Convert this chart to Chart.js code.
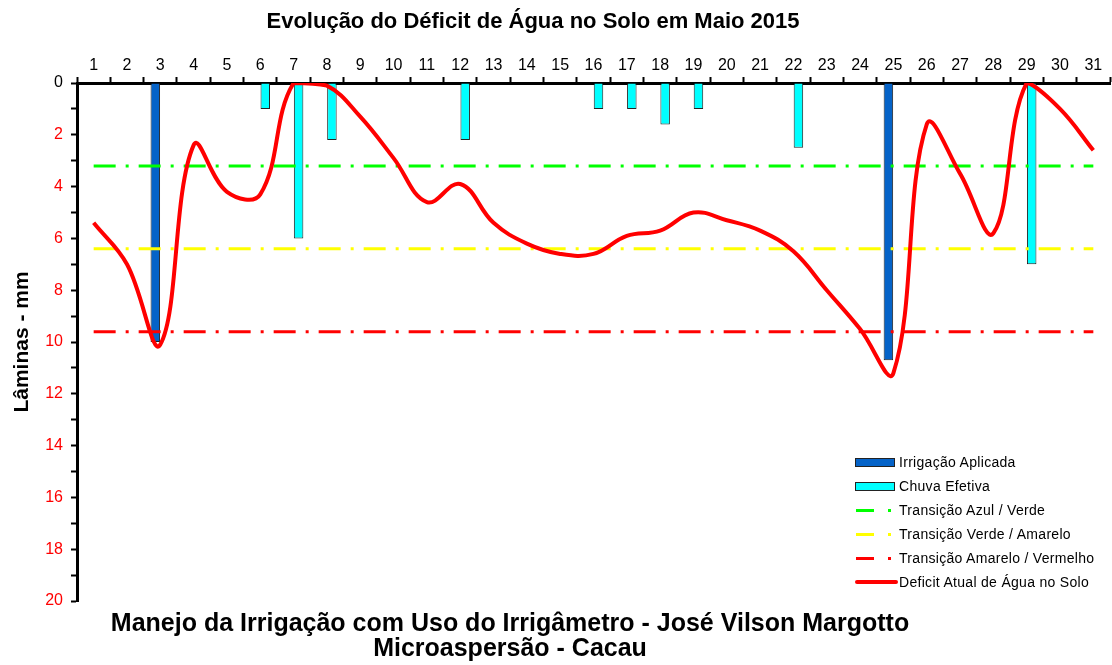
<!DOCTYPE html>
<html>
<head>
<meta charset="utf-8">
<script src="https://cdn.jsdelivr.net/npm/chart.js@4"></script>
<style>
  body { margin: 0; background: #fff; }
  #wrap { position: relative; width: 1112px; height: 665px; font-family: "Liberation Sans", Arial, sans-serif; }
  #title { position: absolute; left: 0; top: 8px; width: 1066px; text-align: center; font-size: 22px; font-weight: bold; line-height: 26px; }
  #subtitle { position: absolute; left: 0; top: 610px; width: 1020px; text-align: center; font-size: 25px; font-weight: bold; line-height: 25px; }
  #legend { position: absolute; left: 855px; top: 450px; font-size: 14px; letter-spacing: 0.3px; color: #000; }
  #legend .item { height: 24px; display: flex; align-items: center; }
  #legend .sym { width: 44px; height: 12px; position: relative; flex: none; }
  .bar { position: absolute; left: 0; top: 2px; width: 38px; height: 7px; border: 1px solid #222; }
  .dash { position: absolute; left: 1px; top: 5px; width: 18px; height: 3px; }
  .dot { position: absolute; left: 33px; top: 5px; width: 3px; height: 3px; }
  .solid { position: absolute; left: 0; top: 4px; width: 43px; height: 4px; border-radius: 2px; }
</style>
</head>
<body>
<div id="wrap">
  <canvas id="chart" width="1112" height="665"></canvas>
  <div id="title">Evolução do Déficit de Água no Solo em Maio 2015</div>
  <div id="subtitle">Manejo da Irrigação com Uso do Irrigâmetro - José Vilson Margotto<br>Microaspersão - Cacau</div>
  <div id="legend"></div>
</div>
<script>
// Days of May 2015
const days = ['1','2','3','4','5','6','7','8','9','10','11','12','13','14','15','16',
              '17','18','19','20','21','22','23','24','25','26','27','28','29','30','31'];

// Irrigation applied (mm)
const irrigacao = [null, null, 10.0, null, null, null, null, null, null, null, null, null, null, null, null, null,
                   null, null, null, null, null, null, null, null, 10.7, null, null, null, null, null, null];

// Effective rain (mm)
const chuva = [null, null, null, null, null, 1.0, 6.0, 2.2, null, null, null, 2.2, null, null, null, 1.0,
               1.0, 1.6, 1.0, null, null, 2.5, null, null, null, null, null, null, 7.0, null, null];

// Current soil water deficit (mm)
const deficit = [5.4, 7.0, 10.1, 2.4, 4.2, 4.3, 0.0, 0.1, 1.3, 2.9, 4.6, 3.9, 5.4, 6.2, 6.6, 6.6,
                 5.9, 5.7, 5.0, 5.3, 5.7, 6.5, 8.0, 9.5, 11.2, 1.6, 3.5, 5.8, 0.0, 1.0, 2.6];

// Transition thresholds (mm)
const azulVerde = 3.2;
const verdeAmarelo = 6.4;
const amareloVermelho = 9.6;

const dashDot = [22, 10, 3, 10];
const fontFamily = '"Liberation Sans", Arial, sans-serif';

const ctx = document.getElementById('chart').getContext('2d');
const chart = new Chart(ctx, {
    data: {
        labels: days,
        datasets: [{
            type: 'line',
            label: 'Deficit Atual de Água no Solo',
            data: deficit,
            borderColor: '#ff0000',
            borderWidth: 4,
            pointRadius: 0,
            tension: 0.4,
            clip: 0,
            order: 0
        }, {
            type: 'line',
            label: 'Transição Azul / Verde',
            data: days.map(() => azulVerde),
            borderColor: '#00ff00',
            borderWidth: 3,
            borderDash: dashDot,
            pointRadius: 0,
            order: 1
        }, {
            type: 'line',
            label: 'Transição Verde / Amarelo',
            data: days.map(() => verdeAmarelo),
            borderColor: '#ffff00',
            borderWidth: 3,
            borderDash: dashDot,
            pointRadius: 0,
            order: 1
        }, {
            type: 'line',
            label: 'Transição Amarelo / Vermelho',
            data: days.map(() => amareloVermelho),
            borderColor: '#ff0000',
            borderWidth: 3,
            borderDash: dashDot,
            pointRadius: 0,
            order: 1
        }, {
            type: 'bar',
            label: 'Irrigação Aplicada',
            data: irrigacao,
            backgroundColor: '#0563c8',
            borderColor: '#222',
            borderWidth: 1,
            categoryPercentage: 0.6,
            barPercentage: 0.95,
            order: 2
        }, {
            type: 'bar',
            label: 'Chuva Efetiva',
            data: chuva,
            backgroundColor: '#00ffff',
            borderColor: '#222',
            borderWidth: 1,
            categoryPercentage: 0.6,
            barPercentage: 0.95,
            order: 2
        }]
    },
    options: {
        responsive: false,
        animation: false,
        layout: { padding: { left: 0, right: 2, top: 31, bottom: 64 } },
        scales: {
            x: {
                type: 'category',
                position: 'top',
                offset: true,
                grid: { offset: true, drawOnChartArea: false, tickLength: 6, tickColor: '#000', tickWidth: 2 },
                border: { color: '#000', width: 3 },
                ticks: { color: '#000', font: { family: fontFamily, size: 16 }, padding: 2, maxRotation: 0, autoSkip: false },
                afterFit: (scale) => { scale.height = 52; }
            },
            y: {
                reverse: true,
                min: 0,
                max: 20,
                grid: { drawOnChartArea: false, tickLength: 6, tickColor: '#000', tickWidth: 2 },
                border: { color: '#000', width: 3 },
                ticks: {
                    stepSize: 1,
                    autoSkip: false,
                    padding: 8,
                    font: { family: fontFamily, size: 16 },
                    color: (c) => c.tick && c.tick.value === 0 ? '#000' : '#ff0000',
                    callback: (v) => v % 2 === 0 ? v : ''
                },
                title: {
                    display: true,
                    text: 'Lâminas - mm',
                    color: '#000',
                    font: { family: fontFamily, size: 21, weight: 'bold' },
                    padding: { top: 10, bottom: 0 }
                },
                afterFit: (scale) => { scale.width = 77; }
            }
        },
        plugins: {
            legend: { display: false },
            tooltip: { enabled: false }
        }
    }
});

// Legend built from the datasets, in the reference order
const legendOrder = [4, 5, 1, 2, 3, 0];
const legendEl = document.getElementById('legend');
legendOrder.forEach((i) => {
    const ds = chart.data.datasets[i];
    let sym;
    if (ds.type === 'bar') {
        sym = '<div class="bar" style="background:' + ds.backgroundColor + '"></div>';
    } else if (ds.borderDash) {
        sym = '<div class="dash" style="background:' + ds.borderColor + '"></div>' +
              '<div class="dot" style="background:' + ds.borderColor + '"></div>';
    } else {
        sym = '<div class="solid" style="background:' + ds.borderColor + '"></div>';
    }
    const item = document.createElement('div');
    item.className = 'item';
    item.innerHTML = '<div class="sym">' + sym + '</div><span>' + ds.label + '</span>';
    legendEl.appendChild(item);
});
</script>
</body>
</html>
